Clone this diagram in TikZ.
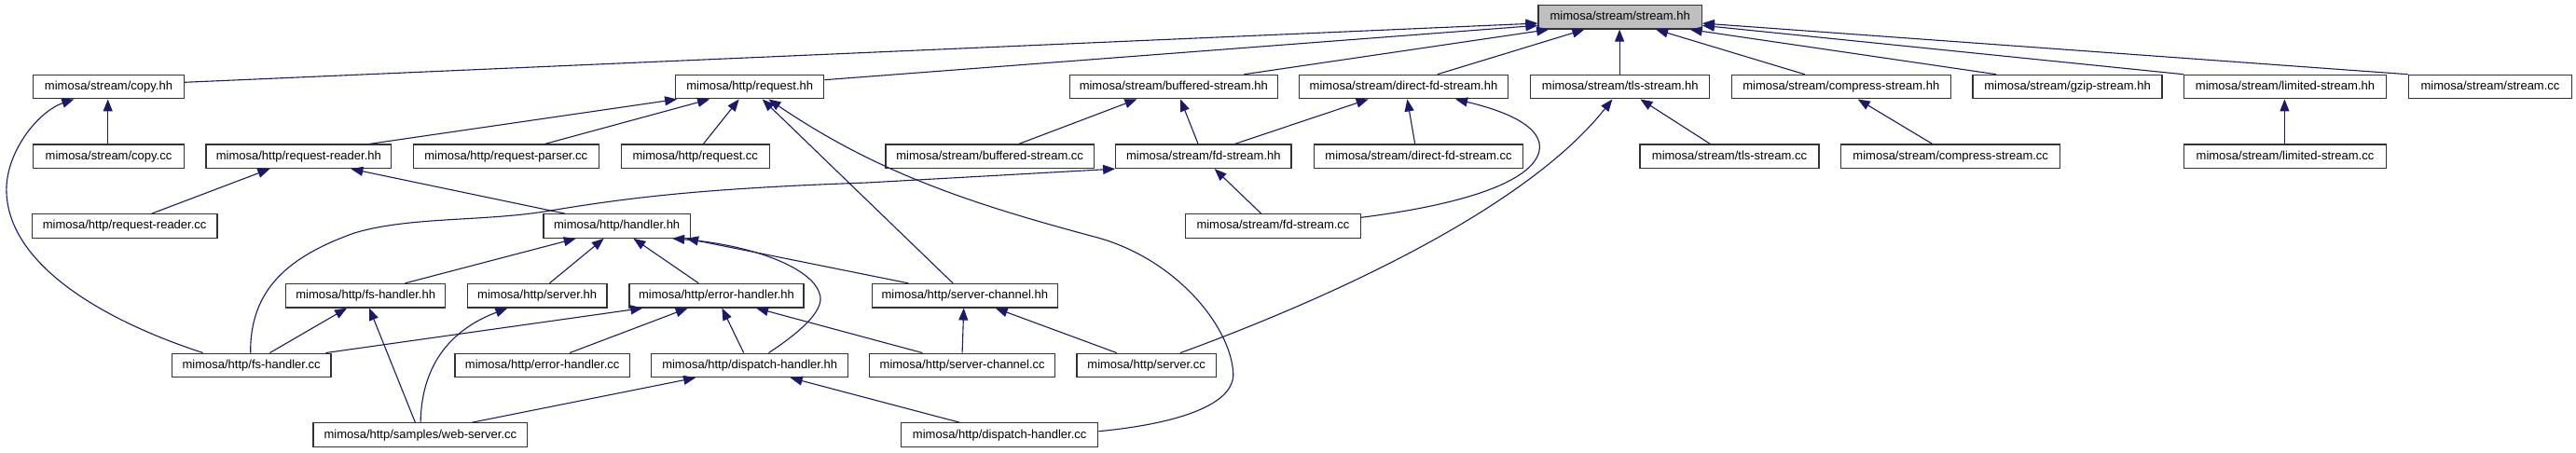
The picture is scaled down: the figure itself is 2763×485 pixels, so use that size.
\documentclass[tikz,border=0pt]{standalone}
\usepackage{fontspec}
\setmainfont{Liberation Sans}
\usetikzlibrary{arrows.meta}
\definecolor{edgeblue}{HTML}{191970}
\definecolor{rootgrey}{HTML}{BFBFBF}
\tikzset{
  box/.style={draw=black!80, line width=1.2pt, fill=white, inner sep=0pt,
    minimum height=25.5pt, text height=9.6pt, text depth=2.8pt,
    font=\fontsize{13}{15}\selectfont},
  edge/.style={draw=edgeblue, line width=1.1pt, -{Triangle[length=13pt,width=10pt]}}
}
\newcommand\fn[6][]{\node[box,#1, minimum width={#4pt-#3pt}] (#2) at ({(#3+#4)/2},#5) {#6};}
\begin{document}
\begin{tikzpicture}[x=1pt,y=-1pt]
\useasboundingbox[fill=white] (0,0) rectangle (2763,485);
% row 0
\fn[fill=rootgrey]{stream}{1650}{1825.3}{18.3}{mimosa/stream/stream.hh}
% row 1
\fn{copyhh}{35.7}{197.3}{93.1}{mimosa/stream/copy.hh}
\fn{requesthh}{724.7}{883.7}{93.1}{mimosa/http/request.hh}
\fn{bufhh}{1147.3}{1370.3}{93.1}{mimosa/stream/buffered-stream.hh}
\fn{dfdhh}{1393.3}{1617.7}{93.1}{mimosa/stream/direct-fd-stream.hh}
\fn{tlshh}{1641.7}{1833.7}{93.1}{mimosa/stream/tls-stream.hh}
\fn{comphh}{1857.3}{2092.3}{93.1}{mimosa/stream/compress-stream.hh}
\fn{gziphh}{2116}{2319}{93.1}{mimosa/stream/gzip-stream.hh}
\fn{limhh}{2342.7}{2559.3}{93.1}{mimosa/stream/limited-stream.hh}
\fn{streamcc}{2583.3}{2758.7}{93.1}{mimosa/stream/stream.cc}
% row 2
\fn{copycc}{35.7}{197.3}{167.8}{mimosa/stream/copy.cc}
\fn{rrhh}{221}{419.7}{167.8}{mimosa/http/request-reader.hh}
\fn{rpcc}{443.3}{642.3}{167.8}{mimosa/http/request-parser.cc}
\fn{reqcc}{666.3}{825.3}{167.8}{mimosa/http/request.cc}
\fn{bufcc}{950}{1173.3}{167.8}{mimosa/stream/buffered-stream.cc}
\fn{fdhh}{1196.7}{1385}{167.8}{mimosa/stream/fd-stream.hh}
\fn{dfdcc}{1409.3}{1633.7}{167.8}{mimosa/stream/direct-fd-stream.cc}
\fn{tlscc}{1759}{1951}{167.8}{mimosa/stream/tls-stream.cc}
\fn{compcc}{1974.7}{2209.7}{167.8}{mimosa/stream/compress-stream.cc}
\fn{limcc}{2342.7}{2559.3}{167.8}{mimosa/stream/limited-stream.cc}
% row 3
\fn{rrcc}{34.3}{233}{242.5}{mimosa/http/request-reader.cc}
\fn{handlerhh}{583}{740.3}{242.5}{mimosa/http/handler.hh}
\fn{fdcc}{1271.7}{1459.3}{242.5}{mimosa/stream/fd-stream.cc}
% row 4
\fn{fshh}{306.7}{477.7}{317.2}{mimosa/http/fs-handler.hh}
\fn{serverhh}{501.3}{651}{317.2}{mimosa/http/server.hh}
\fn{errhh}{675}{862}{317.2}{mimosa/http/error-handler.hh}
\fn{schh}{935.3}{1134.3}{317.2}{mimosa/http/server-channel.hh}
% row 5
\fn{fscc}{184.3}{355}{391.9}{mimosa/http/fs-handler.cc}
\fn{errcc}{488}{675.3}{391.9}{mimosa/http/error-handler.cc}
\fn{disphh}{698.7}{909.7}{391.9}{mimosa/http/dispatch-handler.hh}
\fn{sccc}{932.7}{1131.7}{391.9}{mimosa/http/server-channel.cc}
\fn{servercc}{1155}{1304.3}{391.9}{mimosa/http/server.cc}
% row 6
\fn{webcc}{336}{565.7}{466.6}{mimosa/http/samples/web-server.cc}
\fn{dispcc}{966.7}{1177.7}{466.6}{mimosa/http/dispatch-handler.cc}

% edges to stream.hh
\draw[edge] ([yshift=4.8pt]copyhh.east) -- ([yshift=-6.7pt]stream.west);
\draw[edge] ([yshift=7.4pt]requesthh.east) -- ([yshift=-9pt]stream.west);
\draw[edge] ([xshift=187.7pt]bufhh.north west) -- ([xshift=11.7pt]stream.south west);
\draw[edge] ([xshift=149pt]dfdhh.north west) -- ([xshift=50pt]stream.south west);
\draw[edge] ([xshift=96pt]tlshh.north west) -- ([xshift=87.7pt]stream.south west);
\draw[edge] ([xshift=79pt]comphh.north west) -- ([xshift=126.7pt]stream.south west);
\draw[edge] ([xshift=25.7pt]gziphh.north west) -- ([xshift=163.3pt]stream.south west);
\draw[edge] (limhh.north west) -- ([yshift=-9pt]stream.east);
\draw[edge] (streamcc.north west) -- ([yshift=-6.7pt]stream.east);
% copy.hh
\draw[edge] ([xshift=80.6pt]copycc.north west) -- ([xshift=80.6pt]copyhh.south west);
\draw[edge] ([xshift=34pt]fscc.north west) .. controls (100,340) and (10,280) .. (7,207)
  .. controls (5,165) and (40,120) .. ([xshift=44.3pt]copyhh.south west);
% request.hh
\draw[edge] ([xshift=175.7pt]rrhh.north west) -- ([xshift=2pt]requesthh.south west);
\draw[edge] ([xshift=141.7pt]rpcc.north west) -- ([xshift=37pt]requesthh.south west);
\draw[edge] ([xshift=88.7pt]reqcc.north west) -- ([xshift=68.6pt]requesthh.south west);
\draw[edge] ([xshift=87.4pt]schh.north west) -- ([xshift=93.6pt]requesthh.south west);
\draw[edge] ([yshift=3.9pt]dispcc.east) .. controls (1260,455) and (1325,435) .. (1322.7,400)
  .. controls (1320,350) and (1260,275) .. (1170,253)
  .. controls (1040,218) and (940,185) .. ([xshift=100.3pt]requesthh.south west);
% buffered-stream.hh
\draw[edge] ([xshift=143.3pt]bufcc.north west) -- ([xshift=72.7pt]bufhh.south west);
\draw[edge] ([xshift=89pt]fdhh.north west) -- ([xshift=119.4pt]bufhh.south west);
% direct-fd-stream.hh
\draw[edge] ([xshift=128.3pt]fdhh.north west) -- ([xshift=75pt]dfdhh.south west);
\draw[edge] ([xshift=109pt]dfdcc.north west) -- ([xshift=116.7pt]dfdhh.south west);
\draw[edge] ([yshift=9.2pt]fdcc.east) .. controls (1550,222) and (1640,200) .. (1650.7,163.3)
  .. controls (1658,135) and (1610,118) .. ([xshift=168.4pt]dfdhh.south west);
% fd-stream.hh
\draw[edge] ([xshift=81.6pt]fdcc.north west) -- ([xshift=106.6pt]fdhh.south west);
\draw[edge] ([xshift=85pt]fscc.north west) .. controls (268,310) and (310,275) .. (380,250)
  .. controls (440,232) and (520,238) .. (590,226)
  .. controls (680,211) and (760,202) .. (930,196) -- (fdhh.south west);
% request-reader.hh
\draw[edge] ([xshift=129pt]rrcc.north west) -- ([xshift=69pt]rrhh.south west);
\draw[edge] ([xshift=23.7pt]handlerhh.north west) -- ([xshift=156pt]rrhh.south west);
% handler.hh
\draw[edge] ([xshift=128.3pt]fshh.north west) -- ([xshift=35.3pt]handlerhh.south west);
\draw[edge] ([xshift=88.7pt]serverhh.north west) -- ([xshift=65.3pt]handlerhh.south west);
\draw[edge] ([xshift=75pt]errhh.north west) -- ([xshift=97pt]handlerhh.south west);
\draw[edge] ([xshift=126.3pt]disphh.north west) .. controls (865,352) and (885,330) .. (879,315)
  .. controls (870,285) and (800,262) .. ([xshift=138.7pt]handlerhh.south west);
\draw[edge] ([xshift=39.7pt]schh.north west) -- ([xshift=153.7pt]handlerhh.south west);
% fs-handler.hh
\draw[edge] ([xshift=105.7pt]fscc.north west) -- ([xshift=66pt]fshh.south west);
\draw[edge] ([xshift=110pt]webcc.north west) -- ([xshift=90pt]fshh.south west);
% server.hh
\draw[edge] ([xshift=115.7pt]webcc.north west) .. controls (452,395) and (480,355) .. ([xshift=43.7pt]serverhh.south west);
% error-handler.hh
\draw[edge] ([xshift=165.7pt]fscc.north west) -- ([xshift=15pt]errhh.south west);
\draw[edge] ([xshift=123.7pt]errcc.north west) -- ([xshift=63.3pt]errhh.south west);
\draw[edge] ([xshift=99.6pt]disphh.north west) -- ([xshift=100pt]errhh.south west);
\draw[edge] ([xshift=57.3pt]sccc.north west) -- ([xshift=136.7pt]errhh.south west);
% server-channel.hh
\draw[edge] ([xshift=100pt]sccc.north west) -- ([xshift=99pt]schh.south west);
\draw[edge] ([xshift=43.3pt]servercc.north west) -- ([xshift=133pt]schh.south west);
% tls-stream.hh
\draw[edge] ([xshift=111.7pt]servercc.north west) .. controls (1440,315) and (1640,220) .. ([xshift=88.3pt]tlshh.south west);
\draw[edge] ([xshift=76pt]tlscc.north west) -- ([xshift=118.3pt]tlshh.south west);
% compress / limited
\draw[edge] ([xshift=98.6pt]compcc.north west) -- ([xshift=136pt]comphh.south west);
\draw[edge] ([xshift=108.3pt]limcc.north west) -- ([xshift=108.3pt]limhh.south west);
% dispatch-handler.hh
\draw[edge] ([xshift=170.7pt]webcc.north west) -- ([xshift=48pt]disphh.south west);
\draw[edge] ([xshift=63.3pt]dispcc.north west) -- ([xshift=149.6pt]disphh.south west);
\end{tikzpicture}
\end{document}
